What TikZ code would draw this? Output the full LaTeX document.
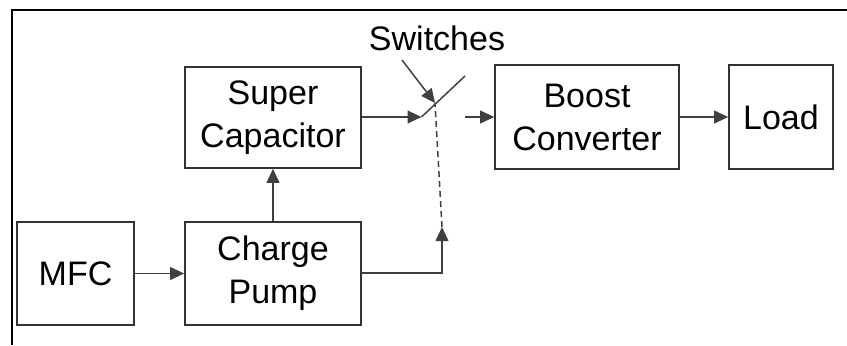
\documentclass[tikz,border=0pt]{standalone}
\usepackage{fontspec}
\setmainfont{Liberation Sans}
\usetikzlibrary{arrows.meta,positioning,calc}

\begin{document}
\begin{tikzpicture}[
  x=0.5pt,
  y=-0.5pt,
  >={Triangle[length=7pt,width=6.4pt]},
  flow/.style={->,line width=.75pt,draw=black!75},
  block/.style={draw=black!80,line width=.8pt,align=center,
    minimum height=51.5pt,inner sep=0pt,
    font=\fontsize{17}{21.5}\selectfont},
  caption/.style={font=\fontsize{17}{19}\selectfont,inner sep=0pt},
  blade/.style={line width=.75pt,draw=black!75},
  control/.style={line width=.75pt,draw=black!75,dash pattern=on 3pt off 2pt}
]
\useasboundingbox (0,0) rectangle (847,345);
% frame
\draw[line width=1.1pt] (12,345) -- (12,10) -- (847,10);

\node[block,minimum width=58.5pt] (mfc) at (75.5,273.5) {MFC};
\node[block,minimum width=88pt] (pump) at (273,273.5) {Charge\\Pump};
\node[block,minimum width=88pt,minimum height=50.5pt] (supercap) at (273,117.5)
  {Super\\Capacitor};
\node[block,minimum width=92pt,minimum height=52pt] (boost) at (587,117)
  {Boost\\Converter};
\node[block,minimum width=52pt,minimum height=52pt] (load) at (781,117) {Load};

% switch
\coordinate (swin) at (421.5,117);
\coordinate (swtop) at (465,76);
\coordinate (pivot) at (435,103);
\coordinate (swctl) at (442,227);
\coordinate (swout) at (465,117);
\node[caption] (switches) at (437,38) {Switches};
\coordinate (ptr) at (402,60);

\draw[flow] (mfc) -- (pump);
\draw[flow] (pump) -- (supercap);
\draw[flow] (supercap.east |- swin) -- (swin);
\draw[blade] (swin) -- (swtop);
\draw[flow] (pump.east |- 0,273) -| (swctl);
\draw[control] (swctl) -- (pivot);
\draw[flow] (ptr) -- (pivot);
\draw[flow] (swout) -- (boost.west |- swout);
\draw[flow] (boost) -- (load);

\end{tikzpicture}
\end{document}
